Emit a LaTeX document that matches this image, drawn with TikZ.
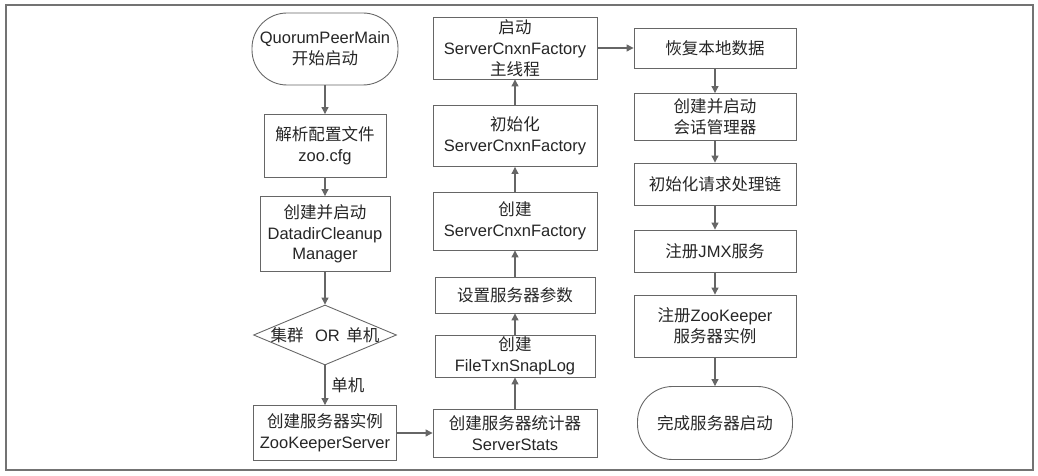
\documentclass[tikz,border=0pt]{standalone}
\usepackage{fontspec}
\setmainfont{Liberation Sans}
\newfontfamily\cjk{Noto Sans CJK SC}
\newcommand{\zh}[1]{{\cjk #1}}
\usetikzlibrary{shapes.geometric, arrows.meta}

\begin{document}
\begin{tikzpicture}[x=0.02cm, y=-0.02cm,
    font=\fontsize{9.4}{11.8}\selectfont,
    every node/.style={text=black!85, align=center},
    box/.style={draw=black!60, line width=0.5pt, fill=white, inner sep=0pt},
    term/.style={box, rounded corners=0.7cm, minimum width=2.92cm, minimum height=1.44cm},
    decision/.style={box, diamond, minimum width=2.86cm, minimum height=1.2cm},
    flow/.style={draw=black!60, line width=0.6pt, -{Triangle[length=1.4mm, width=1.4mm]}}]
    % Frame
    \useasboundingbox (0,0) rectangle (1038,476);
    \draw[black!55, line width=0.6pt] (6,5) rectangle (1033,470);

    % Draw nodes, first column
    \node[term] (start) at (325,49) {QuorumPeerMain\\\zh{开始启动}};
    \node[box, minimum width=2.44cm, minimum height=1.26cm] (parse) at (325,146) {\zh{解析配置文件}\\zoo.cfg};
    \node[box, minimum width=2.6cm, minimum height=1.5cm] (cleanup) at (325,234) {\zh{创建并启动}\\DatadirCleanup\\Manager};
    \node[decision] (mode) at (325,335) {\makebox[0pt]{\zh{集群}\hspace{0.7em}OR\hspace{0.4em}\zh{单机}}};
    \node[box, minimum width=2.86cm, minimum height=1.1cm] (zkserver) at (325,433) {\zh{创建服务器实例}\\ZooKeeperServer};

    % Draw nodes, second column
    \node[box, minimum width=3.28cm, minimum height=1.24cm] (mainthread) at (515,48) {\zh{启动}\\ServerCnxnFactory\\\zh{主线程}};
    \node[box, minimum width=3.28cm, minimum height=1.22cm] (initfac) at (515,136) {\zh{初始化}\\ServerCnxnFactory};
    \node[box, minimum width=3.28cm, minimum height=1.16cm] (createfac) at (515,221) {\zh{创建}\\ServerCnxnFactory};
    \node[box, minimum width=3.2cm, minimum height=0.72cm] (params) at (515,295) {\zh{设置服务器参数}};
    \node[box, minimum width=3.2cm, minimum height=0.84cm] (snaplog) at (515,356) {\zh{创建}\\FileTxnSnapLog};
    \node[box, minimum width=3.28cm, minimum height=0.96cm] (stats) at (515,433) {\zh{创建服务器统计器}\\ServerStats};

    % Draw nodes, third column
    \node[box, minimum width=3.24cm, minimum height=0.8cm] (restore) at (715,48) {\zh{恢复本地数据}};
    \node[box, minimum width=3.24cm, minimum height=0.94cm] (session) at (715,117) {\zh{创建并启动}\\\zh{会话管理器}};
    \node[box, minimum width=3.24cm, minimum height=0.84cm] (chain) at (715,184) {\zh{初始化请求处理链}};
    \node[box, minimum width=3.24cm, minimum height=0.84cm] (jmx) at (715,251) {\zh{注册}JMX\zh{服务}};
    \node[box, minimum width=3.24cm, minimum height=1.24cm] (register) at (715,326) {\zh{注册}ZooKeeper\\\zh{服务器实例}};
    \node[term, minimum width=3.1cm, minimum height=1.46cm] (done) at (715,423) {\zh{完成服务器启动}};

    % Draw connections
    \draw[flow] (start) -- (parse);
    \draw[flow] (parse) -- (cleanup);
    \draw[flow] (cleanup) -- (mode);
    \draw[flow] (mode) -- node[right] {\zh{单机}} (zkserver);
    \draw[flow] (zkserver) -- (stats);
    \draw[flow] (stats) -- (snaplog);
    \draw[flow] (snaplog) -- (params);
    \draw[flow] (params) -- (createfac);
    \draw[flow] (createfac) -- (initfac);
    \draw[flow] (initfac) -- (mainthread);
    \draw[flow] (mainthread) -- (restore);
    \draw[flow] (restore) -- (session);
    \draw[flow] (session) -- (chain);
    \draw[flow] (chain) -- (jmx);
    \draw[flow] (jmx) -- (register);
    \draw[flow] (register) -- (done);
\end{tikzpicture}
\end{document}
